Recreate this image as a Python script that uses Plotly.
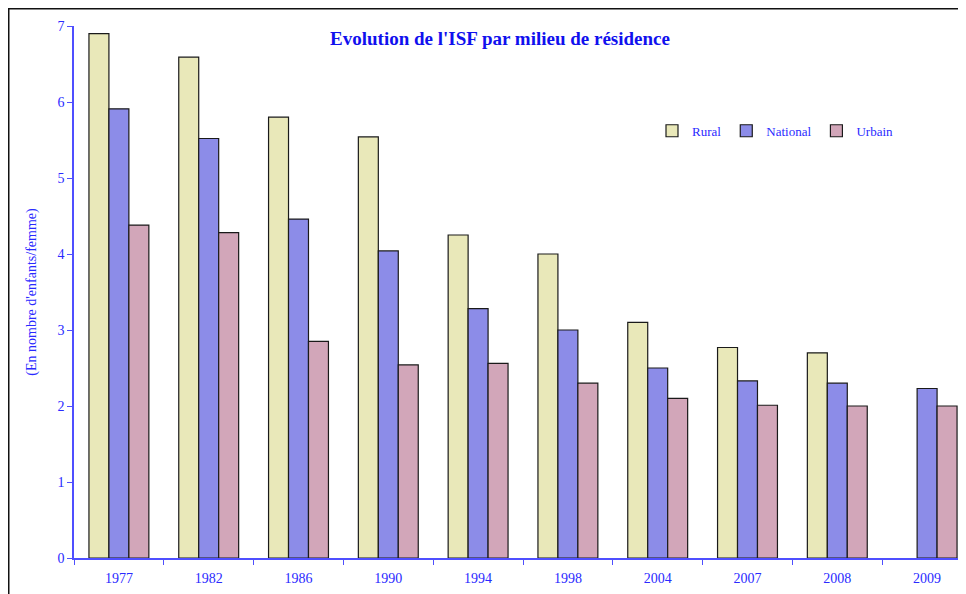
import plotly.graph_objects as go

years = ["1977", "1982", "1986", "1990", "1994", "1998", "2004", "2007", "2008", "2009"]
rural = [6.9, 6.59, 5.8, 5.54, 4.25, 4.0, 3.1, 2.77, 2.7, None]
national = [5.91, 5.52, 4.46, 4.04, 3.28, 3.0, 2.5, 2.33, 2.3, 2.23]
urbain = [4.38, 4.28, 2.85, 2.54, 2.56, 2.3, 2.1, 2.01, 2.0, 2.0]

series_names = ["Rural", "National", "Urbain"]
colors = ["#e9e8b9", "#8c8ce8", "#d2a6b9"]

blue = "#2a2aff"
font_family = "Liberation Serif, Times New Roman, serif"

# page body has an 8px margin: plot area is placed so it lands where the reference has it
L, R, T, B = 66, 2, 18, 44
W, H = 966, 594
pw, ph = W - L - R, H - T - B

fig = go.Figure()
for name, vals, col in zip(series_names, [rural, national, urbain], colors):
    fig.add_trace(go.Bar(
        x=years, y=vals, name=name,
        marker=dict(color=col, line=dict(color="#1a1a1a", width=1.2)),
    ))

fig.update_layout(
    width=W, height=H,
    margin=dict(l=L, r=R, t=T, b=B),
    paper_bgcolor="white", plot_bgcolor="white",
    barmode="group", bargap=0.333, bargroupgap=0,
    font=dict(family=font_family, color=blue, size=14),
    title=dict(
        text="<b>Evolution de l'ISF par milieu de résidence</b>",
        x=(492 - L) / pw, xref="paper", xanchor="center",
        y=1 - 30 / H, yref="container", yanchor="middle",
        font=dict(family=font_family, size=19, color="#1010ee"),
    ),
    legend=dict(
        orientation="h", x=(644 - L) / pw, xanchor="left", y=0.803, yanchor="middle",
        font=dict(family=font_family, size=13, color=blue),
        bgcolor="rgba(0,0,0,0)", itemwidth=30,
    ),
    xaxis=dict(
        type="category", range=[-0.5, 9.5],
        showline=True, linecolor="#4f4fff", linewidth=1.5,
        ticks="outside", tickson="boundaries", ticklen=5, tickcolor="#4f4fff",
        showgrid=False, tickfont=dict(size=14, color=blue), ticklabelstandoff=6,
    ),
    yaxis=dict(
        range=[0, 7], dtick=1,
        showline=True, linecolor="#4f4fff", linewidth=1.5,
        ticks="outside", ticklen=5, tickcolor="#4f4fff",
        showgrid=False, zeroline=False,
        tickfont=dict(size=14, color=blue),
        title=dict(text="(En nombre d'enfants/femme)", font=dict(size=14, color=blue), standoff=18),
    ),
    shapes=[dict(
        type="rect", xref="paper", yref="paper",
        x0=(0.75 - L) / pw, x1=1.05, y0=-0.2, y1=(ph + T - 0.75) / ph,
        line=dict(color="#111111", width=1.5), fillcolor="rgba(0,0,0,0)", layer="below",
    )],
)

fig.write_html("out.html")
